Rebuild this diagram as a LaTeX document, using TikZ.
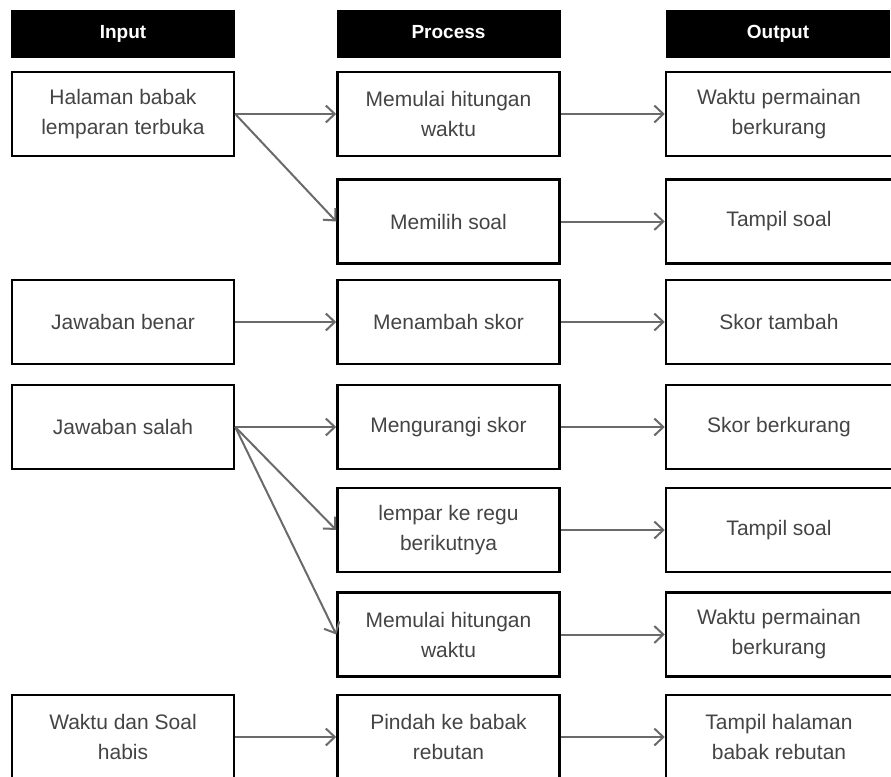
\documentclass[tikz,border=0pt]{standalone}
\usepackage{fontspec}
\setmainfont{Liberation Sans}
\usepackage{tikz}
\usetikzlibrary{arrows.meta,positioning}

\definecolor{txtgray}{HTML}{444444}
\definecolor{arrgray}{HTML}{6A6A6A}

\begin{document}
\begin{tikzpicture}[x=1pt,y=-1pt,
  box/.style={rectangle,draw,line width=2.5pt,minimum width=222pt,minimum height=84pt,align=center,text=txtgray,font=\fontsize{21}{30}\selectfont},
  outbox/.style={box,minimum width=226pt},
  header/.style={rectangle,fill=black,minimum width=224pt,minimum height=48pt,text height=14pt,text depth=4pt,text=white,font=\fontsize{19}{22}\selectfont\bfseries},
  flow/.style={-{Straight Barb[length=9pt,width=17pt]},draw=arrgray,line width=2pt}]
\useasboundingbox (0,0) rectangle (891,776);

% headers
\node[header, name=h_in] at (123,34) {Input};
\node[header, name=h_proc] at (448.5,34) {Process};
\node[header, name=h_out] at (778,34) {Output};

% input column
\node[box, name=in1] at (123,114) {Halaman babak\\lemparan terbuka};
\node[box, name=in3] at (123,322) {Jawaban benar};
\node[box, name=in4] at (123,427) {Jawaban salah};
\node[box, name=in7] at (123,737) {Waktu dan Soal\\habis};

% process column
\node[box, name=p1] at (448.5,114) {Memulai hitungan\\waktu};
\node[box, name=p2] at (448.5,221.5) {Memilih soal};
\node[box, name=p3] at (448.5,322) {Menambah skor};
\node[box, name=p4] at (448.5,427) {Mengurangi skor};
\node[box, name=p5] at (448.5,530) {lempar ke regu\\berikutnya};
\node[box, name=p6] at (448.5,634.5) {Memulai hitungan\\waktu};
\node[box, name=p7] at (448.5,737) {Pindah ke babak\\rebutan};

% output column
\node[outbox, name=o1] at (779,114) {Waktu permainan\\berkurang};
\node[outbox, name=o2] at (779,221.5) {Tampil soal};
\node[outbox, name=o3] at (779,322) {Skor tambah};
\node[outbox, name=o4] at (779,427) {Skor berkurang};
\node[outbox, name=o5] at (779,530) {Tampil soal};
\node[outbox, name=o6] at (779,634.5) {Waktu permainan\\berkurang};
\node[outbox, name=o7] at (779,737) {Tampil halaman\\babak rebutan};

% input to process
\draw[flow] (in1.east) -- (p1.west);
\draw[flow] (in1.east) -- (p2.west);
\draw[flow] (in3.east) -- (p3.west);
\draw[flow] (in4.east) -- (p4.west);
\draw[flow] (in4.east) -- (p5.west);
\draw[flow] (in4.east) -- (p6.west);
\draw[flow] (in7.east) -- (p7.west);

% process to output
\foreach \i in {1,...,7}
  \draw[flow] (p\i.east) -- (o\i.west);
\end{tikzpicture}
\end{document}
